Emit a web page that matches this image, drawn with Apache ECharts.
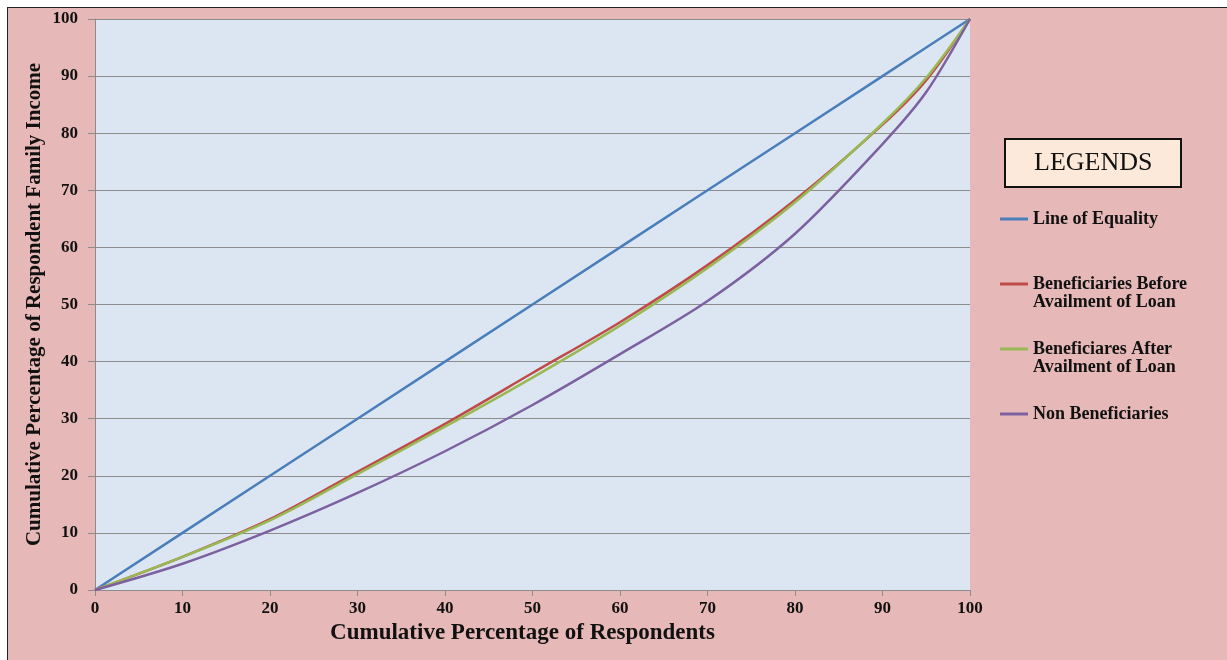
<!DOCTYPE html>
<html>
<head>
<meta charset="utf-8">
<script src="https://cdn.jsdelivr.net/npm/echarts@6/dist/echarts.min.js"></script>
<style>
  html, body { margin: 0; padding: 0; background: #fff; }
  #frame {
    position: absolute; left: 7px; top: 7px; width: 1220px; height: 653px;
    background: #e6b8b7; border-top: 1.5px solid #222; border-left: 1.5px solid #222;
  }
  #chart { position: absolute; left: 0; top: 0; width: 1227px; height: 660px; }
</style>
</head>
<body>
<div id="frame"></div>
<div id="chart"></div>
<script>
// cumulative % of respondents (x)
var respondents = [0, 10, 20, 30, 40, 50, 60, 70, 80, 90, 95, 100];
// cumulative % of family income (y)
var equality   = [0, 10, 20, 30, 40, 50, 60, 70, 80, 90, 95, 100];
var beforeLoan = [0, 5.8, 12.4, 20.7, 29.1, 38.0, 46.9, 56.9, 68.3, 81.5, 89.3, 100];
var afterLoan  = [0, 5.8, 12.2, 20.3, 28.6, 37.2, 46.3, 56.4, 67.9, 81.7, 89.7, 100];
var nonBenef   = [0, 4.6, 10.4, 17.0, 24.3, 32.4, 41.3, 50.6, 62.4, 78.1, 87.2, 100];

var seriesNames = ['Line of Equality', 'Beneficiaries Before\nAvailment of Loan',
  'Beneficiares After\nAvailment of Loan', 'Non Beneficiaries'];

function pairs(ys) {
  return respondents.map(function (x, i) { return [x, ys[i]]; });
}

var serif = '"Liberation Serif", "Times New Roman", serif';

document.addEventListener('DOMContentLoaded', function () {
  var myChart = echarts.init(document.getElementById('chart'));

  var mkLine = function (name, ys, color, smooth) {
    return {
      name: name,
      type: 'line',
      data: pairs(ys),
      symbol: 'none',
      smooth: smooth,
      lineStyle: { color: color, width: 2.5 },
      itemStyle: { color: color }
    };
  };

  var option = {
    backgroundColor: 'transparent',
    animation: false,
    title: {
      text: 'LEGENDS',
      left: 1005,
      top: 139,
      padding: [11, 29, 11, 29],
      backgroundColor: '#fde9d9',
      borderColor: '#111',
      borderWidth: 2,
      textStyle: { fontFamily: serif, fontWeight: 'normal', fontSize: 26, color: '#111' }
    },
    legend: {
      orient: 'vertical',
      left: 1000,
      top: 192,
      padding: 0,
      itemGap: 11,
      icon: 'rect',
      itemWidth: 28,
      itemHeight: 3,
      textStyle: { fontFamily: serif, fontWeight: 'bold', fontSize: 18, color: '#111', lineHeight: 18 },
      // keep the first text line level with the icon
      formatter: function (name) {
        return name.indexOf('\n') >= 0 ? '\n' + name : '\n' + name + '\n';
      },
      data: seriesNames
    },
    grid: { left: 95, right: 257, top: 19, bottom: 70, show: true, backgroundColor: '#dce6f2', borderWidth: 0 },
    xAxis: {
      type: 'value',
      min: 0, max: 100, interval: 10,
      name: 'Cumulative Percentage of Respondents',
      nameLocation: 'middle',
      nameGap: 32,
      nameTextStyle: { fontFamily: serif, fontWeight: 'bold', fontSize: 23, color: '#111', padding: [0, 20, 0, 0] },
      axisLine: { lineStyle: { color: '#8c8c8c' } },
      axisTick: { show: true, length: 6, lineStyle: { color: '#8c8c8c' } },
      axisLabel: { fontFamily: serif, fontWeight: 'bold', fontSize: 17, color: '#111', margin: 10 },
      splitLine: { show: false }
    },
    yAxis: {
      type: 'value',
      min: 0, max: 100, interval: 10,
      name: 'Cumulative Percentage of Respondent Family Income',
      nameLocation: 'middle',
      nameGap: 50,
      nameMoveOverlap: false,
      nameTextStyle: { fontFamily: serif, fontWeight: 'bold', fontSize: 21, color: '#111' },
      axisLine: { show: true, lineStyle: { color: '#8c8c8c' } },
      axisTick: { show: true, length: 7, lineStyle: { color: '#8c8c8c' } },
      axisLabel: { fontFamily: serif, fontWeight: 'bold', fontSize: 17, color: '#111', margin: 17 },
      splitLine: { show: true, lineStyle: { color: '#8c8c8c', width: 1.2 } }
    },
    series: [
      mkLine(seriesNames[0], equality, '#4a7ebb', false),
      mkLine(seriesNames[1], beforeLoan, '#be4b48', 0.3),
      mkLine(seriesNames[2], afterLoan, '#98b954', 0.3),
      mkLine(seriesNames[3], nonBenef, '#7d60a0', 0.3)
    ]
  };

  myChart.setOption(option);
  window.addEventListener('resize', function () { myChart.resize(); });
});
</script>
</body>
</html>
